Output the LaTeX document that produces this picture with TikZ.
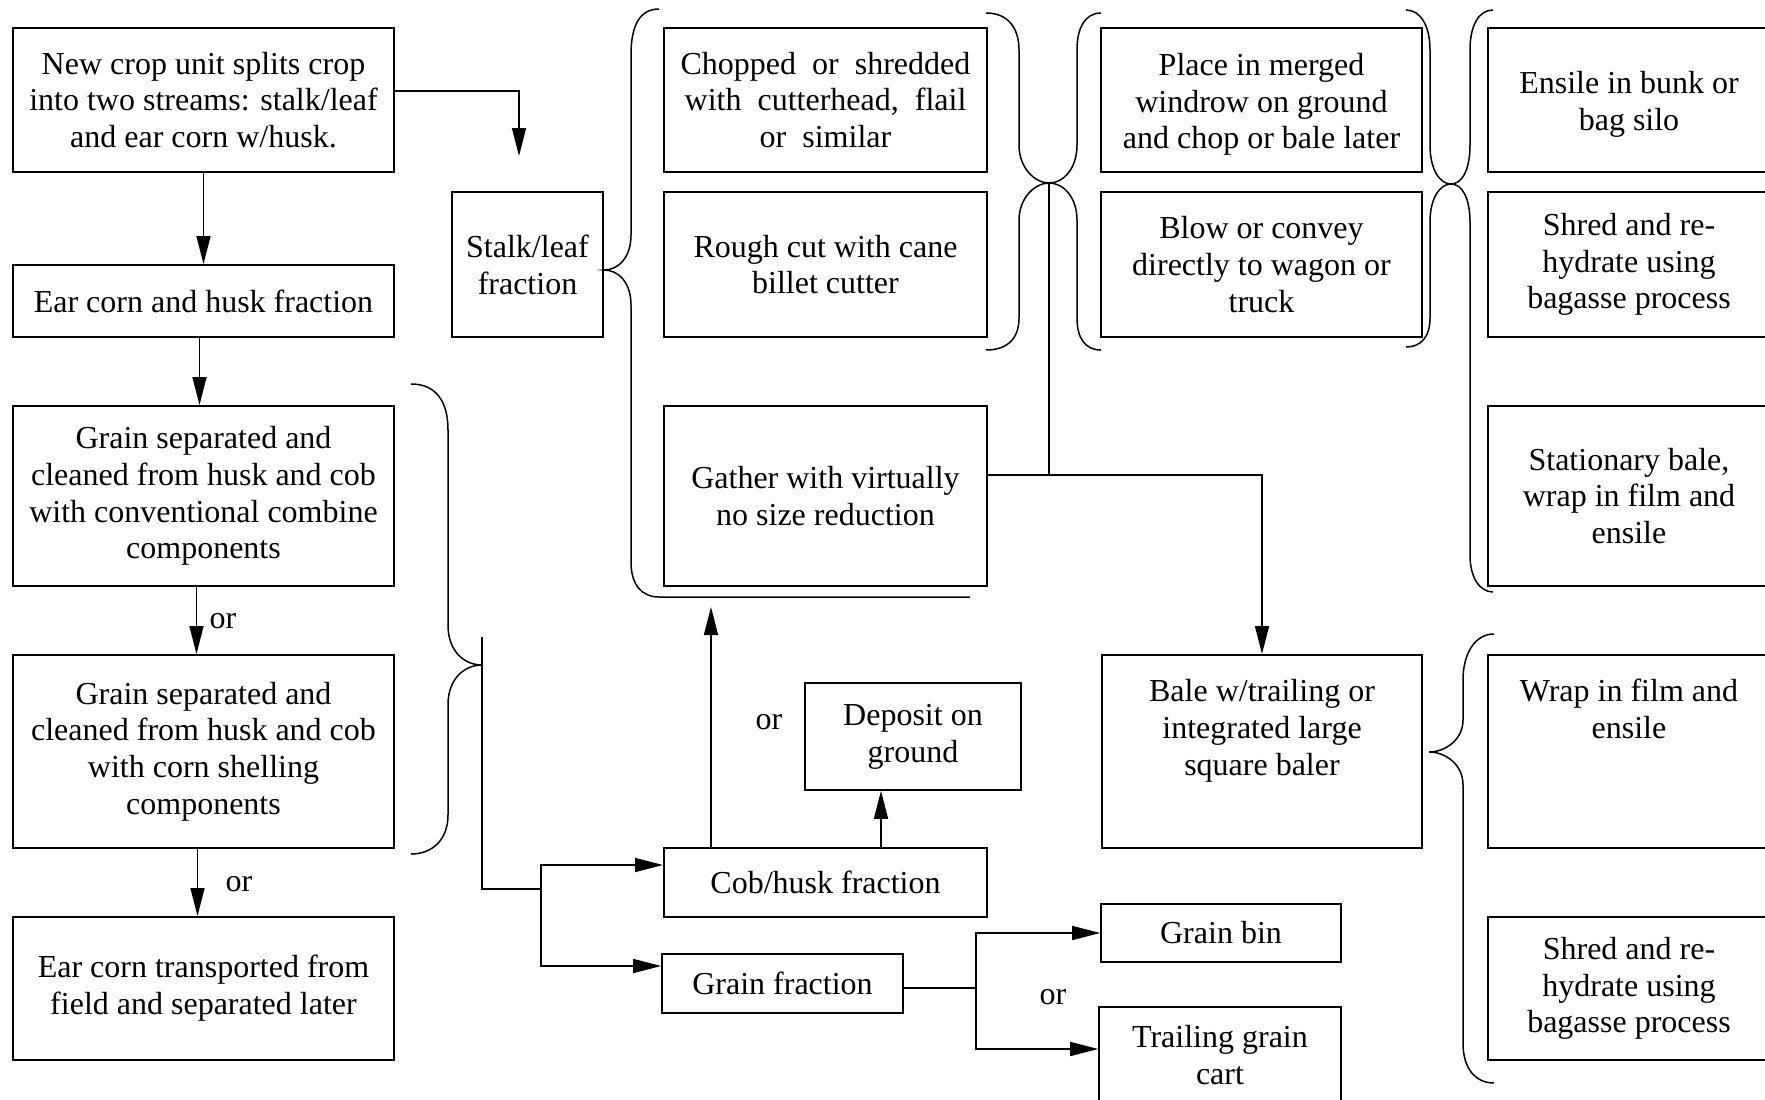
\documentclass[tikz,border=0pt]{standalone}
\usepackage{fontspec}
\setmainfont{Liberation Serif}
\usetikzlibrary{arrows.meta}
\tikzset{
  box/.style={draw, line width=2pt, align=center, inner sep=0pt,
    font=\fontsize{32}{36.8}\selectfont},
  thinbox/.style={box, line width=1.6pt},
  lbl/.style={inner sep=0pt, font=\fontsize{32}{36.8}\selectfont},
  conn/.style={line width=1.5pt},
  arr/.style={conn, -{Triangle[length=28pt,width=14pt]}},
  brace/.style={line width=1.5pt},
}
\begin{document}
\begin{tikzpicture}[x=1pt,y=-1pt]
\useasboundingbox (0,0) rectangle (1765,1100);
\clip (0,0) rectangle (1765,1100);
% left column
\node[box, minimum width=381pt, minimum height=144pt] (newcrop) at (203.5,100) {New crop unit splits crop\\into two streams: stalk/leaf\\and ear corn w/husk.};
\node[box, minimum width=381pt, minimum height=72pt] (earhusk) at (203.5,301) {Ear corn and husk fraction};
\node[box, minimum width=381pt, minimum height=180pt] (gsep1) at (203.5,496) {Grain separated and\\cleaned from husk and cob\\with conventional combine\\components};
\node[box, minimum width=381pt, minimum height=193pt] (gsep2) at (203.5,751.5) {Grain separated and\\cleaned from husk and cob\\with corn shelling\\components};
\node[box, minimum width=381pt, minimum height=143pt] (eartrans) at (203.5,988.5) {Ear corn transported from\\field and separated later};
% middle
\node[box, minimum width=151pt, minimum height=145pt] (stalk) at (527.5,264.5) {Stalk/leaf\\fraction};
\node[box, minimum width=323pt, minimum height=144pt] (chopped) at (825.5,100) {Chopped~ or~ shredded\\with~ cutterhead,~ flail\\or~ similar};
\node[box, minimum width=323pt, minimum height=145pt] (rough) at (825.5,264.5) {Rough cut with cane\\billet cutter};
\node[box, minimum width=323pt, minimum height=180pt] (gather) at (825.5,496) {Gather with virtually\\no size reduction};
\node[thinbox, minimum width=216pt, minimum height=107pt] (deposit) at (913,736.5) {Deposit on\\ground};
\node[box, minimum width=323pt, minimum height=69pt] (cob) at (825.5,882.5) {Cob/husk fraction};
\node[thinbox, minimum width=241pt, minimum height=59pt] (grain) at (782.5,983.5) {Grain fraction};
% right-middle
\node[box, minimum width=321pt, minimum height=144pt] (place) at (1261.5,100) {\rule{0pt}{31pt}Place in merged\\windrow on ground\\and chop or bale later};
\node[box, minimum width=321pt, minimum height=145pt] (blow) at (1261.5,264.5) {Blow or convey\\directly to wagon or\\truck};
\node[box, minimum width=320pt, minimum height=193pt] (bale) at (1262,751.5) {Bale w/trailing or\\integrated large\\square baler\\[12pt]\mbox{}};
\node[thinbox, minimum width=240pt, minimum height=58pt] (grainbin) at (1221,933) {Grain bin};
\node[thinbox, minimum width=242pt, minimum height=96pt] (trailing) at (1220,1055) {Trailing grain\\cart};
% right column
\node[box, minimum width=282pt, minimum height=144pt] (ensile) at (1629,100) {\rule{0pt}{31pt}Ensile in bunk or\\bag silo};
\node[box, minimum width=282pt, minimum height=145pt] (shred1) at (1629,264.5) {Shred and re-\\hydrate using\\bagasse process};
\node[box, minimum width=282pt, minimum height=180pt] (stationary) at (1629,496) {Stationary bale,\\wrap in film and\\ensile};
\node[box, minimum width=282pt, minimum height=193pt] (wrap) at (1629,751.5) {Wrap in film and\\ensile\\\mbox{}\\[12pt]\mbox{}};
\node[box, minimum width=282pt, minimum height=143pt] (shred2) at (1629,988.5) {Shred and re-\\hydrate using\\bagasse process};
% labels
\node[lbl] (or1) at (223,621) {or};
\node[lbl] (or2) at (239,884) {or};
\node[lbl] (or3) at (769,722) {or};
\node[lbl] (or4) at (1053,997) {or};
% braces
\coordinate (tipA) at (604,270);
\coordinate (tipBC) at (1049,183);
\coordinate (tipDE) at (1451,184);
\coordinate (tipF) at (1429,752);
\coordinate (tipG) at (482,665);
\draw[brace] (659,9) .. controls (640,9) and (631,25) .. (631,55) -- (631,235) .. controls (631,258) and (618,270) .. (tipA) .. controls (618,270) and (631,282) .. (631,305) -- (631,562) .. controls (631,585) and (642,597) .. (659,597) -- (970,597);
\draw[brace] (986,13) .. controls (1008,13) and (1019,28) .. (1019,50) -- (1019,145) .. controls (1019,168) and (1035,183) .. (tipBC) .. controls (1035,183) and (1019,198) .. (1019,220) -- (1019,318) .. controls (1019,338) and (1008,350) .. (986,350);
\draw[brace] (1101,13) .. controls (1085,13) and (1077,28) .. (1077,50) -- (1077,145) .. controls (1077,168) and (1064,183) .. (tipBC) .. controls (1064,183) and (1077,198) .. (1077,220) -- (1077,318) .. controls (1077,338) and (1085,350) .. (1101,350);
\draw[brace] (1406,10) .. controls (1420,10) and (1430,25) .. (1430,50) -- (1430,145) .. controls (1430,170) and (1440,184) .. (tipDE) .. controls (1440,184) and (1430,198) .. (1430,222) -- (1430,318) .. controls (1430,338) and (1420,347) .. (1406,347);
\draw[brace] (1493,10) .. controls (1479,10) and (1470,25) .. (1470,50) -- (1470,145) .. controls (1470,170) and (1462,184) .. (tipDE) .. controls (1462,184) and (1470,198) .. (1470,222) -- (1470,555) .. controls (1470,578) and (1480,592) .. (1493,592);
\draw[brace] (1494,634) .. controls (1474,634) and (1463,655) .. (1463,680) -- (1463,720) .. controls (1463,740) and (1445,752) .. (tipF) .. controls (1445,752) and (1463,764) .. (1463,785) -- (1463,1043) .. controls (1463,1068) and (1475,1083) .. (1494,1083);
\draw[brace] (411,384) .. controls (435,384) and (448,400) .. (448,430) -- (448,625) .. controls (448,652) and (465,665) .. (tipG) .. controls (465,665) and (448,678) .. (448,705) -- (448,815) .. controls (448,840) and (432,854) .. (411,854);
% connectors
\coordinate (a1) at (519,156);
\draw[arr] ([yshift=9pt]newcrop.east) -| (a1);
\draw[arr] (newcrop.south) -- (earhusk.north);
\draw[arr] ([xshift=-4pt]earhusk.south) -- ([xshift=-4pt]gsep1.north);
\draw[arr] ([xshift=-7pt]gsep1.south) -- ([xshift=-7pt]gsep2.north);
\draw[arr] ([xshift=-6pt]gsep2.south) -- ([xshift=-6pt]eartrans.north);
% from left brace to cob / grain
\coordinate (g0) at (482,637);
\coordinate (g1) at (482,889);
\coordinate (g2) at (541,889);
\draw[conn] (g0) -- (g1) -- (g2);
\draw[arr] (g2) |- ([yshift=17.5pt]cob.west);
\draw[arr] (g2) |- ([yshift=17.5pt]grain.west);
% cob up
\coordinate (a2) at (711,607);
\coordinate (dp) at ([xshift=-32pt]deposit.south);
\draw[arr] (cob.north -| a2) -- (a2);
\draw[arr] (cob.north -| dp) -- (dp);
% grain split
\coordinate (s1) at (976,988);
\draw[conn] ([yshift=-4.5pt]grain.east) -- (s1);
\draw[arr] (s1) |- (grainbin.west);
\draw[arr] (s1) |- ([yshift=6pt]trailing.west);
% middle vertical and gather -> bale
\coordinate (j1) at (1049,475);
\draw[conn] (tipBC) -- (j1);
\draw[arr] ([yshift=21pt]gather.east) -| (bale.north);
\end{tikzpicture}
\end{document}
